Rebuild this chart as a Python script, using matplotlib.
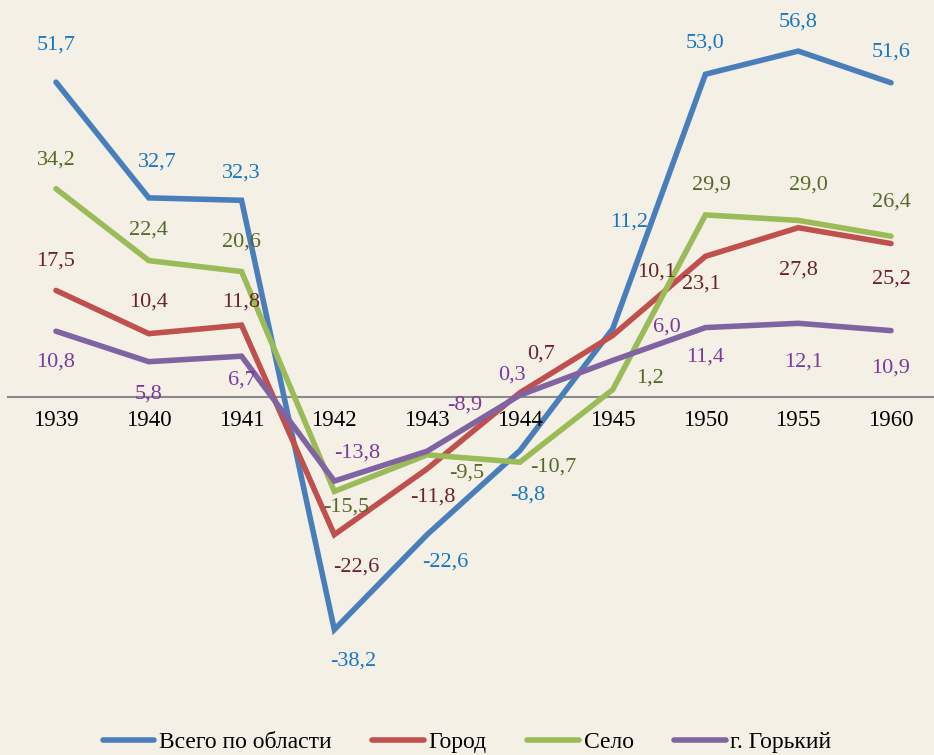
import numpy as np
import matplotlib.pyplot as plt
from matplotlib.lines import Line2D

# --- data ---
years = ["1939", "1940", "1941", "1942", "1943", "1944", "1945", "1950", "1955", "1960"]
total = [51.7, 32.7, 32.3, -38.2, -22.6, -8.8, 11.2, 53.0, 56.8, 51.6]
city = [17.5, 10.4, 11.8, -22.6, -11.8, 0.7, 10.1, 23.1, 27.8, 25.2]
village = [34.2, 22.4, 20.6, -15.5, -9.5, -10.7, 1.2, 29.9, 29.0, 26.4]
gorky = [10.8, 5.8, 6.7, -13.8, -8.9, 0.3, 6.0, 11.4, 12.1, 10.9]
names = ["Всего по области", "Город", "Село", "г. Горький"]

# label offsets in pixels (dx, dy up)
off_total = [(0, 37), (9, 36), (0, 27), (19, -31), (18, -27), (8, -44), (16, 107), (0, 31), (0, 29), (0, 31)]
off_city = [(0, 29), (0, 32), (0, 23), (22, -32), (6, -28), (21, 39), (44, 63), (-4, -28), (0, -42), (0, -36)]
off_village = [(0, 29), (0, 31), (0, 29), (12, -16), (40, -18), (33, -5), (37, 12), (6, 30), (10, 35), (0, 34)]
off_gorky = [(0, -31), (0, -32), (0, -24), (23, 28), (38, 46), (-8, 20), (54, 33), (0, -29), (5, -39), (0, -37)]

line_colors = ["#4a7ebb", "#c0504d", "#9bbb59", "#8064a2"]
text_colors = ["#1777c4", "#6b2424", "#56692a", "#7a3a9e"]

plt.rcParams["font.family"] = ["Liberation Serif", "DejaVu Serif"]
bg = "#f4f0e6"

fig = plt.figure(figsize=(9.34, 7.55), dpi=100, facecolor=bg)
ax = fig.add_axes([0, 0, 1, 1])
ax.set_facecolor(bg)

x = np.arange(len(years))
step = 92.8
ax.set_xlim(-56 / step, 9 + 43 / step)
ppu = 6.09
ax.set_ylim(-(755 - 397) / ppu, 397 / ppu)

ax.axhline(0, xmin=8 / 934, xmax=1, color="#8a8a8a", lw=1.5, zorder=1)

series = [total, city, village, gorky]
offsets = [off_total, off_city, off_village, off_gorky]
for vals, offs, lc, tc in zip(series, offsets, line_colors, text_colors):
    ax.plot(x, vals, color=lc, lw=4, solid_capstyle="round", solid_joinstyle="miter", zorder=3)
    for xi, v, (dx, dy) in zip(x, vals, offs):
        ax.annotate(f"{v:.1f}".replace(".", ","), (xi, v), xytext=(dx, dy),
                    textcoords="offset pixels", ha="center", va="center",
                    fontsize=16, color=tc, zorder=4)

# year labels under the zero line
for xi, yr in zip(x, years):
    ax.annotate(yr, (xi, 0), xytext=(0, -23), textcoords="offset pixels",
                ha="center", va="center", fontsize=16.5, color="black")

ax.axis("off")

handles = [Line2D([0], [0], color=c, lw=4, solid_capstyle="round") for c in line_colors]
fig.legend(handles, names, loc="center", bbox_to_anchor=(0.5, 1 - 742 / 755),
           ncol=4, frameon=False, fontsize=17, handlelength=2.2, handletextpad=0.2,
           columnspacing=1.7)

fig.savefig("out.png", dpi=100, facecolor=bg)
